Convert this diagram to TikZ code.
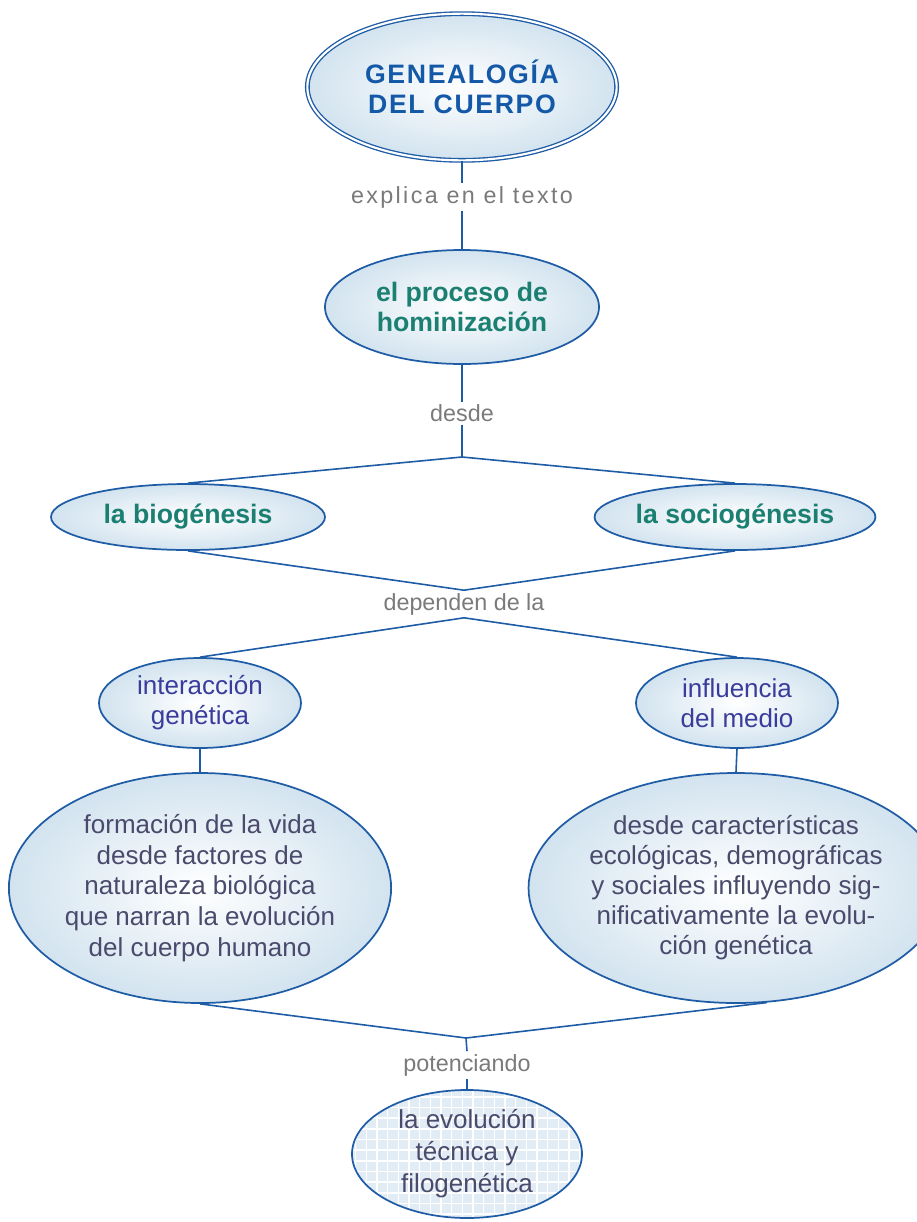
\documentclass[tikz,border=0pt]{standalone}
\usepackage{fontspec}
\setmainfont{Liberation Sans}
\usepackage{tikz}
\usetikzlibrary{shapes.geometric}
\usetikzlibrary{arrows,positioning, calc}
\definecolor{rimblue}{HTML}{1F5CA6}
\definecolor{skyshade}{HTML}{D2E3EF}
\definecolor{gridfill}{HTML}{E2ECF5}
\definecolor{titleblue}{HTML}{1458A8}
\definecolor{tealtxt}{HTML}{1B7F72}
\definecolor{indigotxt}{HTML}{3A3C9C}
\definecolor{slatetxt}{HTML}{4A4A6C}
\definecolor{linkgray}{HTML}{7A7A7A}
\tikzstyle{bubble}=[ellipse,draw=rimblue,line width=1.3pt,inner sep=0pt,
  shading=radial,inner color=white,outer color=skyshade,align=center]
\tikzstyle{linkword}=[text=linkgray,inner sep=2pt,
  font=\fontsize{17.5}{21}\selectfont]
\tikzstyle{wire}=[draw=rimblue,line width=1.2pt]

\begin{document}
\begin{tikzpicture}[x=0.75pt,y=-0.75pt]
  \useasboundingbox (0,0) rectangle (917,1222);
  % concepts
  \node[bubble,double=white,double distance=1.6pt,line width=1pt,
        minimum width=232pt,minimum height=110pt,text=titleblue,
        font=\fontsize{20}{22.5}\selectfont\bfseries\addfontfeature{LetterSpace=6}]
        (genea) at (462,87) {GENEALOGÍA\\DEL CUERPO};
  \node[bubble,minimum width=205.5pt,minimum height=85.5pt,text=tealtxt,
        font=\fontsize{20}{22.5}\selectfont\bfseries]
        (homin) at (462,307) {el proceso de\\hominización};
  \node[bubble,minimum width=205.5pt,minimum height=49.5pt,text=tealtxt,
        font=\fontsize{20}{22.5}\selectfont\bfseries]
        (bio) at (188,517) {la biogénesis};
  \node[bubble,minimum width=205.5pt,minimum height=49.5pt,text=tealtxt,
        font=\fontsize{20}{22.5}\selectfont\bfseries]
        (socio) at (735,517) {la sociogénesis};
  \node[bubble,minimum width=151.5pt,minimum height=67.5pt,text=indigotxt,
        font=\fontsize{19.5}{22.5}\selectfont]
        (inter) at (200,703) {interacción\\genética};
  \node[bubble,minimum width=151.5pt,minimum height=67.5pt,text=indigotxt,
        font=\fontsize{19.5}{22.5}\selectfont]
        (medio) at (737,703) {influencia\\del medio};
  \node[bubble,minimum width=282pt,minimum height=172.5pt,text=slatetxt,
        font=\fontsize{19.5}{23}\selectfont]
        (vida) at (200,888) {formación de la vida\\desde factores de\\naturaleza biológica\\que narran la evolución\\del cuerpo humano};
  \node[bubble,minimum width=272pt,minimum height=172.5pt,text=slatetxt,
        font=\fontsize{19.5}{22.5}\selectfont]
        (ecolo) at (736,888) {desde características\\ecológicas, demográficas\\y sociales influyendo sig-\\nificativamente la evolu-\\ción genética};
  \node[ellipse,draw=rimblue,line width=1.3pt,inner sep=0pt,align=center,
        fill=gridfill,minimum width=172.5pt,minimum height=96pt,text=slatetxt,
        font=\fontsize{19.5}{24}\selectfont,
        path picture={\draw[white,line width=1.2pt,step=8pt]
          (path picture bounding box.south west) grid (path picture bounding box.north east);}]
        (evol) at (467,1154) {la evolución\\técnica y\\filogenética};
  % linking words
  \node[linkword,font=\fontsize{17.5}{21}\selectfont\addfontfeature{LetterSpace=10}]
        (explica) at (462,197) {explica en el texto};
  \node[linkword] (desde) at (462,413) {desde};
  \node[linkword] (depend) at (464,604) {dependen de la};
  \node[linkword] (poten) at (467,1065) {potenciando};
  \coordinate (split) at (462,457);
  \coordinate (merge) at (466,1038);
  % connectors
  \draw[wire] (genea.south) -- (explica.north);
  \draw[wire] (explica.south) -- (homin.north);
  \draw[wire] (homin.south) -- (desde.north);
  \draw[wire] (desde.south) -- (split);
  \draw[wire] (split) -- (bio.north);
  \draw[wire] (split) -- (socio.north);
  \draw[wire] (bio.south) -- (depend.north);
  \draw[wire] (socio.south) -- (depend.north);
  \draw[wire] (depend.south) -- (inter.north);
  \draw[wire] (depend.south) -- (medio.north);
  \draw[wire] (inter.south) -- (vida.north);
  \draw[wire] (medio.south) -- (ecolo.north);
  \draw[wire] (vida.south) -- (merge);
  \draw[wire] (ecolo.-75) -- (merge);
  \draw[wire] (merge) -- (poten.north);
  \draw[wire] (poten.south) -- (evol.north);
\end{tikzpicture}
\end{document}
